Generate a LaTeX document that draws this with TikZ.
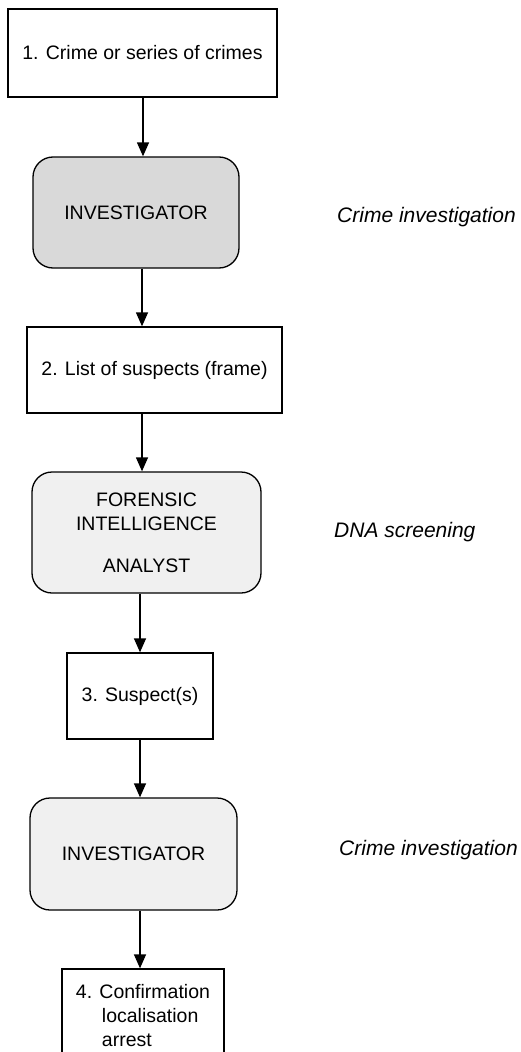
\documentclass[tikz,border=0pt]{standalone}
\usepackage{fontspec}
\setmainfont{Liberation Sans}
\usetikzlibrary{arrows.meta}
\definecolor{darkfill}{HTML}{D9D9D9}
\definecolor{lightfill}{HTML}{F0F0F0}
\begin{document}
\begin{tikzpicture}[x=1pt,y=-1pt,
  base/.style={draw=black,line width=1.3pt,inner sep=0pt,align=center,
    font=\fontsize{19.5}{25}\selectfont},
  sqbox/.style={base,fill=white},
  rbox/.style={base,rounded corners=20pt},
  side/.style={font=\fontsize{21}{25}\selectfont\itshape,anchor=base west,inner sep=0pt},
  arr/.style={line width=1.3pt,-{Triangle[length=14pt,width=12pt]}}]
\useasboundingbox (0,0) rectangle (521,1052);
\clip (0,0) rectangle (521,1052);
\fill[white] (0,0) rectangle (521,1052);

\node[sqbox,minimum width=269pt,minimum height=88pt] (n1) at (142.5,53) {1. Crime or series of crimes};
\node[rbox,fill=darkfill,minimum width=206pt,minimum height=111pt] (n2) at (136,212.5) {INVESTIGATOR};
\node[sqbox,minimum width=255pt,minimum height=86pt] (n3) at (154.5,370) {2. List of suspects (frame)};
\node[rbox,fill=lightfill,minimum width=229pt,minimum height=121pt] (n4) at (146.5,532.5)
  {FORENSIC\\[-1pt]INTELLIGENCE\\[17pt]ANALYST};
\node[sqbox,minimum width=146pt,minimum height=86pt] (n5) at (140,696) {3. Suspect(s)};
\node[rbox,fill=lightfill,minimum width=207pt,minimum height=112pt] (n6) at (133.5,854) {INVESTIGATOR};
\node[sqbox,align=left,font=\fontsize{19.5}{24}\selectfont,minimum width=162pt,minimum height=93pt] (n7) at (143,1015.5)
  {4. Confirmation\\\hspace*{26pt}localisation\\\hspace*{26pt}arrest};

\node[side] (l1) at (337,222) {Crime investigation};
\node[side] (l2) at (334,537) {DNA screening};
\node[side] (l3) at (339,855) {Crime investigation};

\draw[arr] (143,0 |- n1.south) -- (143,0 |- n2.north);
\draw[arr] (142,0 |- n2.south) -- (142,0 |- n3.north);
\draw[arr] (142,0 |- n3.south) -- (142,0 |- n4.north);
\draw[arr] (140,0 |- n4.south) -- (140,0 |- n5.north);
\draw[arr] (140,0 |- n5.south) -- (140,0 |- n6.north);
\draw[arr] (140,0 |- n6.south) -- (140,0 |- n7.north);
\end{tikzpicture}
\end{document}
